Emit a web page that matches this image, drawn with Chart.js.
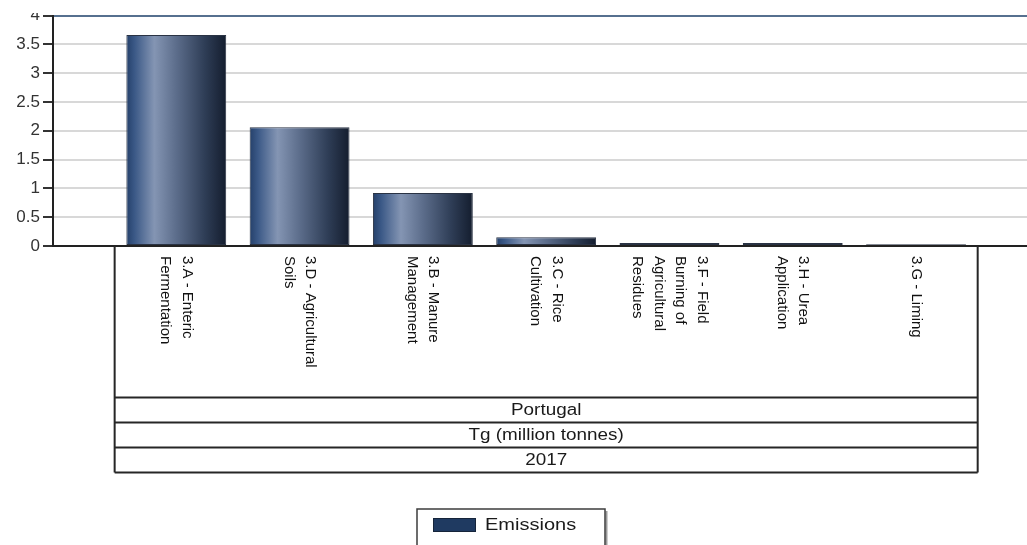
<!DOCTYPE html>
<html>
<head>
<meta charset="utf-8">
<title>Agriculture emissions – Portugal 2017</title>
<script src="https://cdn.jsdelivr.net/npm/chart.js@4/dist/chart.umd.min.js"></script>
<style>
  html, body { margin: 0; padding: 0; background: #fff; overflow: hidden; }
  #wrap { position: absolute; left: 0; top: 13px; width: 1027px; height: 532px; }
</style>
</head>
<body>
<div id="wrap"><canvas id="chart"></canvas></div>
<script>
// Emission source categories (each entry = wrapped label lines)
const categories = [
  ['3.A - Enteric', 'Fermentation'],
  ['3.D - Agricultural', 'Soils'],
  ['3.B - Manure', 'Management'],
  ['3.C - Rice', 'Cultivation'],
  ['3.F - Field', 'Burning of', 'Agricultural', 'Residues'],
  ['3.H - Urea', 'Application'],
  ['3.G - Liming']
];

// Emissions per category
const emissions = [3.66, 2.06, 0.92, 0.15, 0.05, 0.05, 0.03];

// Rows of the header table under the category axis
const tableRows = ['Portugal', 'Tg (million tonnes)', '2017'];

const seriesName = 'Emissions';
const swatchColor = '#1f3a61';

const BAR_SHARE = 0.81;

function barGradient(c) {
  const chart = c.chart;
  if (!chart.chartArea) return '#34496a';
  const xs = chart.scales.x;
  const cx = xs.getPixelForValue(c.dataIndex);
  const hw = (xs.getPixelForValue(1) - xs.getPixelForValue(0)) * BAR_SHARE / 2;
  const g = chart.ctx.createLinearGradient(cx - hw, 0, cx + hw, 0);
  g.addColorStop(0.00, '#25406a');
  g.addColorStop(0.08, '#3a5886');
  g.addColorStop(0.28, '#8495b3');
  g.addColorStop(0.50, '#5c6d8b');
  g.addColorStop(0.78, '#2f3e57');
  g.addColorStop(1.00, '#141d2e');
  return g;
}

// Draws the category labels, the header table and the legend box
const tablePlugin = {
  id: 'tableAxis',
  afterDraw(chart) {
    const { ctx, chartArea } = chart;
    const xs = chart.scales.x;
    const base = chartArea.bottom;
    const left = xs.getPixelForValue(-0.5);
    const right = xs.getPixelForValue(categories.length - 0.5);
    const rowTops = [151.4, 176.4, 201.4, 226.4].map(v => base + v);

    ctx.save();
    ctx.strokeStyle = '#262626';
    ctx.lineWidth = 2;
    ctx.beginPath();
    ctx.moveTo(left, base); ctx.lineTo(left, rowTops[3]);
    ctx.moveTo(right, base); ctx.lineTo(right, rowTops[3]);
    rowTops.forEach(y => { ctx.moveTo(left, y); ctx.lineTo(right, y); });
    ctx.stroke();

    // table rows
    ctx.fillStyle = '#1a1a1a';
    ctx.font = '16px "Liberation Sans", Arial, sans-serif';
    ctx.textAlign = 'center';
    ctx.textBaseline = 'middle';
    const mid = (left + right) / 2;
    tableRows.forEach((t, i) => {
      const y = (rowTops[i] + rowTops[i + 1]) / 2 + 1;
      ctx.save();
      ctx.translate(mid, y);
      ctx.scale(1.18, 1);
      ctx.fillText(t, 0, 0);
      ctx.restore();
    });

    // rotated category labels, reading top to bottom
    ctx.font = '15px "Liberation Sans", Arial, sans-serif';
    ctx.fillStyle = '#111';
    ctx.textAlign = 'left';
    ctx.textBaseline = 'middle';
    const lh = 21.5;
    categories.forEach((lines, i) => {
      const cx = xs.getPixelForValue(i);
      ctx.save();
      ctx.translate(cx, base + 10);
      ctx.rotate(Math.PI / 2);
      lines.forEach((ln, k) => {
        ctx.fillText(ln, 0, (k - (lines.length - 1) / 2) * lh);
      });
      ctx.restore();
    });

    // legend box
    const ds = chart.data.datasets[0];
    const lx = 417, ly = 496, lw = 188, lh2 = 60;
    ctx.fillStyle = '#ffffff';
    ctx.fillRect(lx, ly, lw, lh2);
    ctx.strokeStyle = '#9a9a9a';
    ctx.lineWidth = 2;
    ctx.beginPath();
    ctx.moveTo(lx + lw + 1.5, ly + 2); ctx.lineTo(lx + lw + 1.5, ly + lh2);
    ctx.stroke();
    ctx.strokeStyle = '#3c3c3c';
    ctx.lineWidth = 1.5;
    ctx.strokeRect(lx, ly, lw, lh2);
    ctx.fillStyle = swatchColor;
    ctx.fillRect(lx + 16, ly + 9, 43, 14);
    ctx.strokeStyle = '#15243a';
    ctx.lineWidth = 1;
    ctx.strokeRect(lx + 16.5, ly + 9.5, 42, 13);
    ctx.fillStyle = '#1a1a1a';
    ctx.font = '16px "Liberation Sans", Arial, sans-serif';
    ctx.textAlign = 'left';
    ctx.textBaseline = 'middle';
    ctx.save();
    ctx.translate(lx + 68, ly + 17);
    ctx.scale(1.25, 1);
    ctx.fillText(ds.label, 0, 0);
    ctx.restore();
    ctx.restore();
  }
};

new Chart(document.getElementById('chart'), {
  type: 'bar',
  data: {
    datasets: [{
      label: seriesName,
      data: emissions.map((v, i) => ({ x: i, y: v })),
      backgroundColor: barGradient,
      borderColor: '#2a3344',
      borderWidth: 1,
      borderSkipped: false,
      barPercentage: 1,
      categoryPercentage: BAR_SHARE
    }]
  },
  options: {
    responsive: true,
    maintainAspectRatio: false,
    animation: false,
    layout: { padding: { top: 2.5, bottom: 291, left: 0, right: 0 } },
    plugins: { legend: { display: false }, tooltip: { enabled: false } },
    scales: {
      x: {
        type: 'linear',
        min: -1,
        max: 6.9,
        offset: false,
        z: 1,
        grid: { display: false, offset: false },
        ticks: { display: false, stepSize: 1, includeBounds: false },
        border: { display: true, color: '#222', width: 2 }
      },
      y: {
        min: 0,
        max: 4,
        ticks: {
          stepSize: 0.5,
          color: '#333',
          padding: 3,
          font: { family: '"Liberation Sans", Arial, sans-serif', size: 17 },
          callback: v => String(Number(v))
        },
        grid: {
          color: c => (c.tick && c.tick.value === 4 ? '#56708f' : '#d8d8d8'),
          lineWidth: 2,
          tickLength: 10,
          tickColor: '#333',
          tickWidth: 2
        },
        border: { display: true, color: '#222', width: 2 },
        afterFit(scale) {
          scale.width = 53;
          scale.paddingTop = 0;
          scale.paddingBottom = 0;
        }
      }
    }
  },
  plugins: [tablePlugin]
});
</script>
</body>
</html>
